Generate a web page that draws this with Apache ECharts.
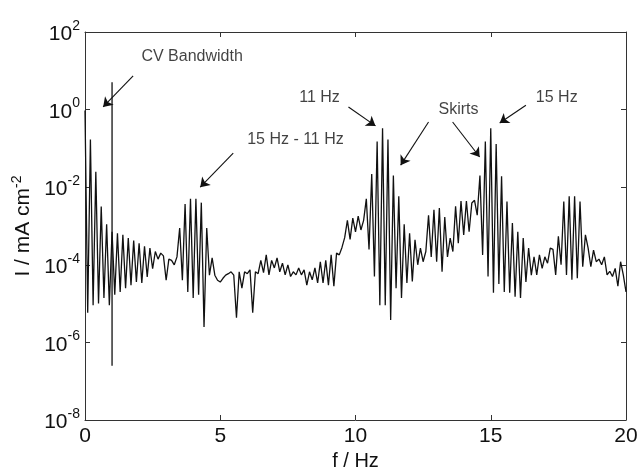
<!DOCTYPE html>
<html>
<head>
<meta charset="utf-8">
<script src="https://cdn.jsdelivr.net/npm/echarts@6/dist/echarts.min.js"></script>
<style>
  html, body { margin: 0; padding: 0; background: #fff; }
  #chart { width: 641px; height: 468px; }
</style>
</head>
<body>
<div id="chart"></div>
<script>
  // frequency grid, Hz
  const freq = [
    0, 0.1, 0.2, 0.3, 0.4, 0.5, 0.6, 0.7, 0.8, 0.9,
    1, 1.1, 1.2, 1.3, 1.4, 1.5, 1.6, 1.7, 1.8, 1.9,
    2, 2.1, 2.2, 2.3, 2.4, 2.5, 2.6, 2.7, 2.8, 2.9,
    3, 3.1, 3.2, 3.3, 3.4, 3.5, 3.6, 3.7, 3.8, 3.9,
    4, 4.1, 4.2, 4.3, 4.4, 4.5, 4.6, 4.7, 4.8, 4.9,
    5, 5.1, 5.2, 5.3, 5.4, 5.5, 5.6, 5.7, 5.8, 5.9,
    6, 6.1, 6.2, 6.3, 6.4, 6.5, 6.6, 6.7, 6.8, 6.9,
    7, 7.1, 7.2, 7.3, 7.4, 7.5, 7.6, 7.7, 7.8, 7.9,
    8, 8.1, 8.2, 8.3, 8.4, 8.5, 8.6, 8.7, 8.8, 8.9,
    9, 9.1, 9.2, 9.3, 9.4, 9.5, 9.6, 9.7, 9.8, 9.9,
    10, 10.1, 10.2, 10.3, 10.4, 10.5, 10.6, 10.7, 10.8, 10.9,
    11, 11.1, 11.2, 11.3, 11.4, 11.5, 11.6, 11.7, 11.8, 11.9,
    12, 12.1, 12.2, 12.3, 12.4, 12.5, 12.6, 12.7, 12.8, 12.9,
    13, 13.1, 13.2, 13.3, 13.4, 13.5, 13.6, 13.7, 13.8, 13.9,
    14, 14.1, 14.2, 14.3, 14.4, 14.5, 14.6, 14.7, 14.8, 14.9,
    15, 15.1, 15.2, 15.3, 15.4, 15.5, 15.6, 15.7, 15.8, 15.9,
    16, 16.1, 16.2, 16.3, 16.4, 16.5, 16.6, 16.7, 16.8, 16.9,
    17, 17.1, 17.2, 17.3, 17.4, 17.5, 17.6, 17.7, 17.8, 17.9,
    18, 18.1, 18.2, 18.3, 18.4, 18.5, 18.6, 18.7, 18.8, 18.9,
    19, 19.1, 19.2, 19.3, 19.4, 19.5, 19.6, 19.7, 19.8, 19.9,
    20,
  ]
  // current density, mA cm^-2
  const current = [
    0.95, 5.8e-6, 0.17, 9.1e-6, 2.5e-2, 1e-5, 3.2e-3, 1.4e-5, 1.1e-3, 9.1e-6,
    7.1e-4, 1.7e-5, 6.5e-4, 2.0e-5, 5.9e-4, 2.5e-5, 4.9e-4, 3.0e-5, 4.2e-4, 3.6e-5,
    3.6e-4, 3.4e-5, 3.0e-4, 4.9e-5, 2.7e-4, 7.9e-5, 2.2e-4, 1.4e-4, 2.0e-4, 1.7e-4,
    4.0e-5, 1.4e-4, 1.3e-4, 1.0e-4, 1.6e-4, 8.9e-4, 4.0e-5, 3.7e-3, 2.0e-5, 5.0e-3,
    1.4e-5, 5.0e-3, 1.7e-5, 4.0e-3, 2.5e-6, 8.9e-4, 5.4e-5, 1.5e-4, 5.4e-5, 4.0e-5,
    3.6e-5, 4.5e-5, 5.4e-5, 5.9e-5, 6.6e-5, 5.4e-5, 4.3e-6, 6.6e-5, 2.5e-5, 6.6e-5,
    5.9e-5, 7.4e-5, 5.8e-6, 6.6e-5, 5.9e-5, 1.3e-4, 6.3e-5, 1.8e-4, 5.5e-5, 1.3e-4,
    8.3e-5, 1.5e-4, 6.6e-5, 1.1e-4, 5.5e-5, 1.0e-4, 5.0e-5, 6.6e-5, 5.5e-5, 8.3e-5,
    5.5e-5, 7.4e-5, 3.0e-5, 6.6e-5, 4.1e-5, 8.3e-5, 3.4e-5, 1.2e-4, 3.4e-5, 1.3e-4,
    3.0e-5, 1.8e-4, 2.8e-5, 2.0e-4, 1.8e-4, 2.8e-4, 5.0e-4, 1.4e-3, 4.5e-4, 1.6e-3,
    7.1e-4, 1.8e-3, 7.9e-4, 1.4e-3, 5.0e-3, 2.5e-4, 2.2e-2, 5.0e-5, 0.15, 9.1e-6,
    0.33, 9.1e-6, 0.17, 3.8e-6, 2.0e-2, 2.5e-5, 5.8e-3, 1.4e-5, 1.1e-3, 3.4e-5,
    6.5e-4, 3.7e-5, 4.4e-4, 1.0e-4, 2.7e-4, 1.2e-4, 2.2e-4, 1.9e-3, 1.6e-4, 2.6e-3,
    1.2e-4, 2.9e-3, 6.6e-5, 1.7e-3, 1.6e-4, 4.9e-4, 2.2e-4, 3.2e-3, 3.6e-4, 4.4e-3,
    5.9e-4, 4.4e-3, 7.1e-4, 3.9e-3, 4.6e-3, 1.9e-3, 2.0e-2, 1.8e-4, 0.15, 5.0e-5,
    0.33, 1.9e-5, 0.13, 3.2e-5, 1.9e-2, 2.0e-5, 4.3e-3, 1.9e-5, 1.2e-3, 1.5e-5,
    7.1e-4, 1.4e-5, 4.9e-4, 3.6e-5, 2.7e-4, 5.4e-5, 1.6e-4, 5.5e-5, 1.8e-4, 8.1e-5,
    1.6e-4, 1.1e-4, 2.7e-4, 2.5e-4, 5.5e-5, 5.4e-4, 1.0e-4, 4.3e-3, 5.5e-5, 5.8e-3,
    4.1e-5, 5.8e-3, 4.5e-5, 4.3e-3, 8.9e-5, 5.9e-4, 2.7e-4, 8.9e-5, 2.4e-4, 1.2e-4,
    1.4e-4, 1.0e-4, 1.6e-4, 5.5e-5, 6.8e-5, 5.0e-5, 8.1e-5, 2.8e-5, 1.2e-4, 5.5e-5,
    2.0e-5,
  ]
  // CV bandwidth marker
  const cvFreq = [1, 1]
  const cvCurrent = [5.1, 2.5e-7]

  // annotations, in data coordinates
  const noteText = ['CV Bandwidth', '15 Hz - 11 Hz', '11 Hz', 'Skirts', '15 Hz']
  const noteFreq = [3.96, 7.78, 8.67, 13.81, 17.44]
  const noteCurrent = [23, 0.166, 2.1, 1.03, 2.1]
  // [fromFreq, fromCurrent, toFreq, toCurrent]
  const arrows = [
    [1.78, 7.4, 0.67, 1.17],
    [5.48, 0.076, 4.26, 0.01],
    [9.74, 1.17, 10.74, 0.38],
    [12.7, 0.48, 11.67, 0.037],
    [13.59, 0.48, 14.59, 0.06],
    [16.3, 1.3, 15.33, 0.45],
  ]

  const font = 'Liberation Sans, Arial, sans-serif'
  const ink = '#111'
  const supRich = {
    b: { fontSize: 21, fontFamily: font, color: ink, verticalAlign: 'bottom' },
    s: { fontSize: 14, fontFamily: font, color: ink, verticalAlign: 'top', padding: [0, 0, 12, 0] },
  }

  const axisLine = { show: true, onZero: false, lineStyle: { color: '#333', width: 1 } }
  const axisTick = { show: true, inside: true, length: 5, lineStyle: { color: '#333' } }

  const options = {
    animation: false,
    grid: { left: 85, right: 15, top: 32, bottom: 48, outerBoundsMode: 'none' },
    xAxis: [
      {
        type: 'value',
        min: 0,
        max: 20,
        interval: 5,
        position: 'bottom',
        axisLine,
        axisTick,
        splitLine: { show: false },
        axisLabel: { fontSize: 21, fontFamily: font, color: ink, margin: 6 },
        name: 'f / Hz',
        nameLocation: 'middle',
        nameGap: 28,
        nameTextStyle: { fontSize: 20, fontFamily: font, color: ink },
      },
      {
        type: 'value',
        min: 0,
        max: 20,
        interval: 5,
        position: 'top',
        axisLine,
        axisTick,
        splitLine: { show: false },
        axisLabel: { show: false },
      },
    ],
    yAxis: [
      {
        type: 'log',
        logBase: 10,
        min: 1e-8,
        max: 1e2,
        interval: 2,
        position: 'left',
        axisLine,
        axisTick,
        splitLine: { show: false },
        axisLabel: {
          margin: 5,
          formatter: (v) => '{b|10}{s|' + Math.round(Math.log10(v)) + '}',
          rich: supRich,
        },
        name: 'I / mA cm{s|-2}',
        nameLocation: 'middle',
        nameGap: 49,
        nameRotate: 90,
        nameTextStyle: { rich: supRich, fontSize: 21, fontFamily: font, color: ink },
      },
      {
        type: 'log',
        logBase: 10,
        min: 1e-8,
        max: 1e2,
        interval: 2,
        position: 'right',
        axisLine,
        axisTick,
        splitLine: { show: false },
        axisLabel: { show: false },
      },
    ],
    series: [
      {
        name: 'current',
        type: 'line',
        data: freq.map((f, i) => [f, current[i]]),
        symbol: 'none',
        lineStyle: { color: ink, width: 1.3 },
        silent: true,
      },
      {
        name: 'cv',
        type: 'line',
        data: cvFreq.map((f, i) => [f, cvCurrent[i]]),
        symbol: 'none',
        lineStyle: { color: ink, width: 1.3 },
        silent: true,
        markLine: {
          silent: true,
          symbol: ['none', 'arrow'],
          symbolSize: 9,
          label: { show: false },
          lineStyle: { color: ink, width: 1.1, type: 'solid' },
          data: arrows.map((a) => [{ coord: [a[0], a[1]] }, { coord: [a[2], a[3]] }]),
        },
      },
      {
        name: 'notes',
        type: 'scatter',
        data: noteText.map((t, i) => [noteFreq[i], noteCurrent[i], t]),
        symbolSize: 0,
        silent: true,
        label: {
          show: true,
          position: 'inside',
          formatter: (p) => p.data[2],
          fontSize: 16,
          fontFamily: font,
          color: ink,
        },
      },
    ],
  }

  const chart = echarts.init(document.getElementById('chart'))
  chart.setOption(options)
</script>
</body>
</html>
